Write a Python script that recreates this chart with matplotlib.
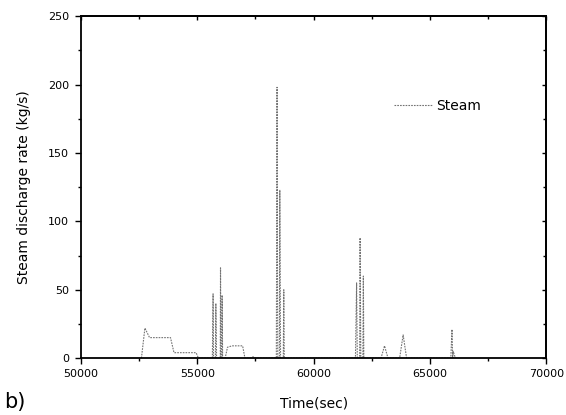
import matplotlib
matplotlib.use("Agg")
import matplotlib.pyplot as plt
from matplotlib.ticker import MultipleLocator, NullFormatter

plt.rcParams["font.family"] = ["DejaVu Sans"]

# time (s) and steam discharge rate (kg/s)
time_s = [52600, 52750, 52950, 53850, 54000, 54950, 55050,
          55650, 55680, 55700, 55780, 55800, 55830, 55990, 56000, 56020,
          56060, 56070, 56090, 56200, 56300, 56500, 56950, 57050,
          57300, 57400, 57500, 58400, 58430, 58460, 58530, 58550, 58580,
          58700, 58720, 58740, 61800, 61850, 61880, 61980, 62000, 62030,
          62120, 62140, 62160, 62900, 63050, 63200, 63700, 63850, 64000,
          65900, 65950, 65980, 66000, 66100]
steam = [0, 22, 15, 15, 4, 4, 0,
         0, 47, 0, 0, 40, 0, 0, 66, 0,
         0, 46, 0, 0, 8, 9, 9, 0,
         0, 1, 0, 0, 198, 0, 0, 123, 0,
         0, 50, 0, 0, 55, 0, 0, 88, 0,
         0, 60, 0, 0, 9, 0, 0, 17, 0,
         0, 21, 0, 5, 0]

fig = plt.figure(figsize=(5.66, 4.15), dpi=100)
ax = fig.add_axes([0.143, 0.137, 0.822, 0.824])

ax.plot(time_s, steam, color="0.45", lw=0.8, ls=(0, (1.5, 1)), label="Steam")

ax.set_xlim(50000, 70000)
ax.set_ylim(0, 250)
ax.xaxis.set_major_locator(MultipleLocator(5000))
ax.xaxis.set_minor_locator(MultipleLocator(2500))
ax.yaxis.set_major_locator(MultipleLocator(50))
ax.yaxis.set_minor_locator(MultipleLocator(25))
ax.tick_params(which="both", direction="out", labelsize=8, width=1,
               colors="black")
ax.tick_params(which="major", length=4.5)
ax.tick_params(which="minor", length=2.2)
ax.tick_params(axis="x", pad=3)
ax.tick_params(axis="y", pad=4)
for sp in ax.spines.values():
    sp.set_linewidth(1.3)

# mirrored ticks pointing inward on top and right
top = ax.secondary_xaxis("top")
top.xaxis.set_major_locator(MultipleLocator(5000))
top.xaxis.set_minor_locator(MultipleLocator(2500))
top.xaxis.set_major_formatter(NullFormatter())
top.tick_params(which="both", direction="in", width=1)
top.tick_params(which="major", length=3)
top.tick_params(which="minor", length=2)
right = ax.secondary_yaxis("right")
right.yaxis.set_major_locator(MultipleLocator(50))
right.yaxis.set_minor_locator(MultipleLocator(25))
right.yaxis.set_major_formatter(NullFormatter())
right.tick_params(which="both", direction="in", width=1)
right.tick_params(which="major", length=3)
right.tick_params(which="minor", length=2)
for sec in (top, right):
    for sp in sec.spines.values():
        sp.set_linewidth(1.3)

ax.set_xlabel("Time(sec)", fontsize=10, labelpad=13)
ax.set_ylabel("Steam discharge rate (kg/s)", fontsize=10, labelpad=12)

ax.legend(loc="center left", bbox_to_anchor=(0.645, 0.737), frameon=False,
          fontsize=10, handlelength=2.8, handletextpad=0.3)

fig.text(0.008, 0.018, "b)", fontsize=15)

fig.savefig("out.png", dpi=100)
